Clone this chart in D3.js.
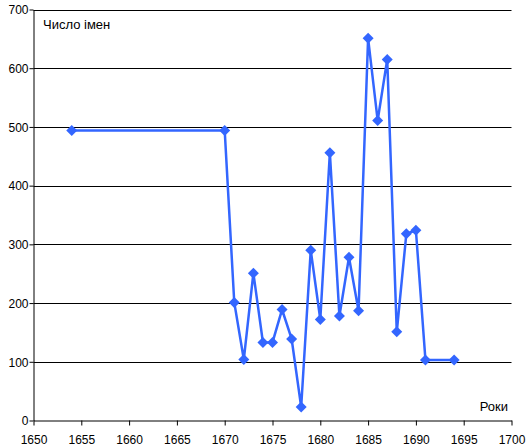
<!DOCTYPE html>
<html>
<head>
<meta charset="utf-8">
<script src="https://cdn.jsdelivr.net/npm/d3@7"></script>
<style>
  body { margin: 0; background: #fff; }
  text { font-family: "Liberation Sans", Arial, sans-serif; }
</style>
</head>
<body>
<div id="main"></div>
<script>
// Datos del gráfico
var years = [1654, 1670, 1671, 1672, 1673, 1674, 1675, 1676, 1677, 1678, 1679, 1680,
             1681, 1682, 1683, 1684, 1685, 1686, 1687, 1688, 1689, 1690, 1691, 1694];
var counts = [494, 494, 201, 104, 251, 133, 133, 189, 139, 23, 290, 172,
              456, 178, 278, 187, 651, 511, 615, 151, 318, 324, 103, 103];
var xTicks = [1650, 1655, 1660, 1665, 1670, 1675, 1680, 1685, 1690, 1695, 1700];
var yTicks = [0, 100, 200, 300, 400, 500, 600, 700];
var yLabel = "Число імен";
var xLabel = "Роки";

var chartWidth = 527, chartHeight = 447;
var plotLeft = 33.5, plotRight = 511.5, plotTop = 9.5, plotBottom = 420.5;

var svg = d3.select("#main").append("svg")
  .attr("width", chartWidth)
  .attr("height", chartHeight);

var x = d3.scaleLinear().domain([1650, 1700]).range([plotLeft, plotRight]);
var y = d3.scaleLinear().domain([0, 700]).range([plotBottom, plotTop]);

// Líneas de la cuadrícula
svg.append("g").selectAll("line")
  .data(yTicks.filter(function(d) { return d > 0; }))
  .enter().append("line")
  .attr("x1", plotLeft).attr("x2", plotRight)
  .attr("y1", function(d) { return Math.round(y(d)) + 0.5; })
  .attr("y2", function(d) { return Math.round(y(d)) + 0.5; })
  .attr("stroke", "#000").attr("stroke-width", 1);

// Ejes
var xAxis = svg.append("g")
  .attr("transform", "translate(0," + (Math.round(plotBottom) - 0.5) + ")")
  .call(d3.axisBottom(x).tickValues(xTicks).tickFormat(d3.format("d")).tickSize(5).tickSizeOuter(0));
xAxis.select(".domain").attr("stroke", "#000");
xAxis.selectAll("text").attr("font-size", 12).attr("dy", "1.25em").attr("fill", "#000");

var yAxis = svg.append("g")
  .attr("transform", "translate(" + plotLeft + ",0)")
  .call(d3.axisLeft(y).tickValues(yTicks).tickSize(4).tickSizeOuter(0));
yAxis.select(".domain").attr("stroke", "#000");
yAxis.selectAll("text").attr("font-size", 12).attr("x", -5).attr("dy", "0.36em").attr("fill", "#000");

// Línea de la serie
var pts = years.map(function(d, i) { return [d, counts[i]]; });
svg.append("path")
  .datum(pts)
  .attr("fill", "none")
  .attr("stroke", "#3366ff")
  .attr("stroke-width", 2.5)
  .attr("d", d3.line().x(function(d) { return x(d[0]); }).y(function(d) { return y(d[1]); }));

// Marcadores en forma de rombo
svg.append("g").selectAll("path")
  .data(pts)
  .enter().append("path")
  .attr("transform", function(d) { return "translate(" + x(d[0]) + "," + y(d[1]) + ")"; })
  .attr("d", "M0,-5.5L5.5,0L0,5.5L-5.5,0Z")
  .attr("fill", "#3366ff");

// Títulos de los ejes
svg.append("text")
  .attr("x", 43).attr("y", 29)
  .attr("font-size", 13)
  .attr("fill", "#000")
  .text(yLabel);

svg.append("text")
  .attr("x", 508).attr("y", 411)
  .attr("text-anchor", "end")
  .attr("font-size", 13)
  .attr("fill", "#000")
  .text(xLabel);
</script>
</body>
</html>
